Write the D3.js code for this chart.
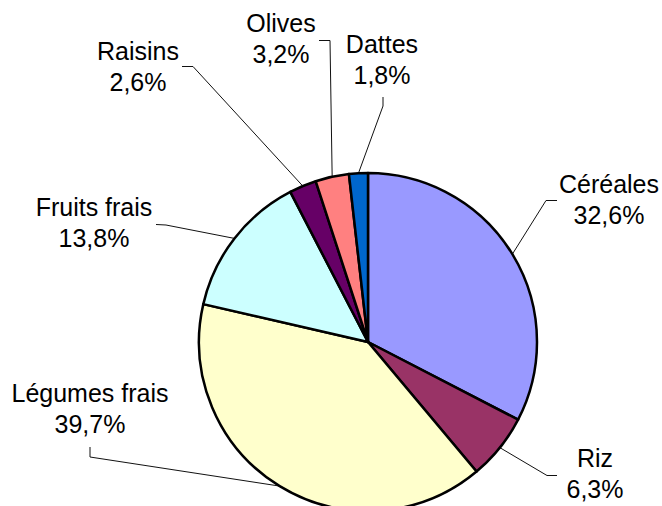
<!DOCTYPE html>
<html>
<head>
<meta charset="utf-8">
<script src="https://cdn.jsdelivr.net/npm/d3@7"></script>
<style>
  body { margin: 0; background: #fff; }
  text { font-family: "Liberation Sans", Arial, sans-serif; font-size: 25px; fill: #000; }
</style>
</head>
<body>
<svg id="chart"></svg>
<script>
// chart data
var categories = ["Céréales","Riz","Légumes frais","Fruits frais","Raisins","Olives","Dattes"]
var values = [32.6, 6.3, 39.7, 13.8, 2.6, 3.2, 1.8]
var colors = ["#9999FF","#993366","#FFFFCC","#CCFFFF","#660066","#FF8080","#0066CC"]

// where each label sits (center x, first baseline) and its leader stub
var labelPos = [[609,193],[595,467],[90,402],[94,216],[138,60],[281,32],[382,53]]
var stubs = [
    [[557,200.5],[546,200.5]],
    [[557,475.5],[547,475.5]],
    [[90,447],[90,457]],
    [[156,224.5],[166,225]],
    [[182,66.5],[193,66.5]],
    [[319,40.5],[330,40.5]],
    [[383,97],[383,106]]
]

var screen = {width:662,height:506}
var center = {x:368,y:342}
var radius = 169

var fr = d3.formatLocale({decimal:",",thousands:" ",grouping:[3],currency:["","€"]})
var pct = fr.format(".1f")

var drawPie = function(target,arcs)
{
    var arc = d3.arc().innerRadius(0).outerRadius(radius)

    target.selectAll("path.slice")
    .data(arcs)
    .enter()
    .append("path")
    .attr("class","slice")
    .attr("d",arc)
    .attr("fill",function(d,i){ return colors[i] })
    .attr("stroke","#000")
    .attr("stroke-width",2.5)
    .attr("stroke-linejoin","round")
}

var drawLabels = function(svg,arcs)
{
    var edge = d3.arc().innerRadius(radius).outerRadius(radius)

    svg.selectAll("polyline.leader")
    .data(arcs)
    .enter()
    .append("polyline")
    .attr("class","leader")
    .attr("fill","none")
    .attr("stroke","#111")
    .attr("stroke-width",1)
    .attr("points",function(d,i)
    {
        var c = edge.centroid(d)
        var pts = stubs[i].concat([[center.x+c[0],center.y+c[1]]])
        return pts.map(function(p){ return p.join(",") }).join(" ")
    })

    var labels = svg.selectAll("text.lbl")
    .data(arcs)
    .enter()
    .append("text")
    .attr("class","lbl")
    .attr("text-anchor","middle")

    labels.append("tspan")
    .attr("x",function(d,i){ return labelPos[i][0] })
    .attr("y",function(d,i){ return labelPos[i][1] })
    .text(function(d,i){ return categories[i] })

    labels.append("tspan")
    .attr("x",function(d,i){ return labelPos[i][0] })
    .attr("y",function(d,i){ return labelPos[i][1]+31 })
    .text(function(d,i){ return pct(values[i])+"%" })
}

var initGraph = function()
{
    var svg = d3.select("#chart")
    .attr("width",screen.width)
    .attr("height",screen.height)

    var pie = d3.pie().sort(null).value(function(d){ return d })
    var arcs = pie(values)

    drawLabels(svg,arcs)

    var target = svg.append("g")
    .attr("transform","translate("+center.x+","+center.y+")")
    drawPie(target,arcs)
}

initGraph()
</script>
</body>
</html>
